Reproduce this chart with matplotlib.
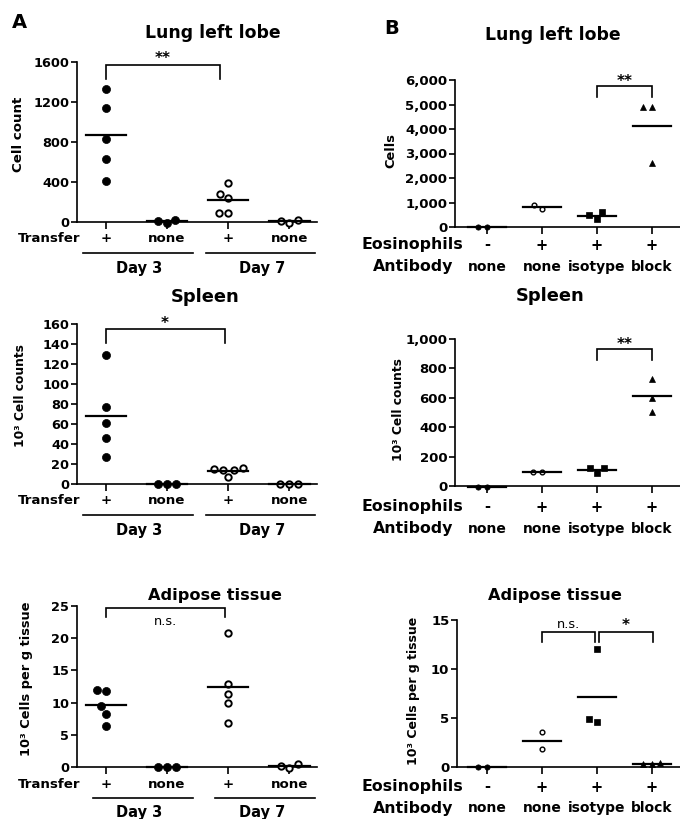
import numpy as np
import matplotlib
matplotlib.use('Agg')
import matplotlib.pyplot as plt
from matplotlib.ticker import FuncFormatter

plt.rcParams['font.family'] = ['DejaVu Sans']
plt.rcParams['font.weight'] = 'bold'

# ---------------- data ----------------
a_transfer = ['+', 'none', '+', 'none']
a_days = ['Day 3', 'Day 7']
a_lung = [[1330, 1140, 830, 630, 410], [25, -10, 15], [395, 285, 240, 90, 90], [25, -5, 10]]
a_spleen = [[129, 77, 61, 46, 27], [0, 0, 0], [16, 15, 14, 14, 7], [0, 0, 0]]
a_adipose = [[12.0, 11.8, 9.5, 8.3, 6.3], [0.05, 0.05, 0.05], [20.8, 12.9, 11.4, 10.0, 6.9], [0.5, -0.1, 0.1]]

b_eos = ['-', '+', '+', '+']
b_antibody = ['none', 'none', 'isotype', 'block']
b_lung = [[-20, -10], [730, 880], [600, 330, 470], [4900, 4900, 2600]]
b_spleen = [[-5, -5], [92, 92], [120, 86, 120], [725, 600, 505]]
b_adipose = [[-0.05, -0.05], [3.6, 1.8], [12.0, 4.6, 4.9], [0.45, 0.3, 0.3]]

W, H = 680, 819
fig = plt.figure(figsize=(W / 100, H / 100), dpi=100)


def make_ax(l, r, t, b):
    return fig.add_axes([l / W, (H - b) / H, (r - l) / W, (b - t) / H])


def swarm(ax, x0, vals, d):
    vals = np.asarray(vals, float)
    pts = ax.transData.transform(np.column_stack([np.full(len(vals), x0), vals]))
    xc = pts[0, 0]
    ys = pts[:, 1]
    order = np.argsort(ys, kind='stable')
    placed = []
    offs = np.zeros(len(vals))
    for i in order:
        cands = [0.0]
        for px_, py_ in placed:
            dy = ys[i] - py_
            if abs(dy) < d:
                dx = np.sqrt(d * d - dy * dy)
                cands += [px_ - dx, px_ + dx]
        cands = sorted(cands, key=lambda c: (round(abs(c), 6), c))
        for c in cands:
            if all((c - px_) ** 2 + (ys[i] - py_) ** 2 >= d * d - 1e-6 for px_, py_ in placed):
                offs[i] = c
                placed.append((c, ys[i]))
                break
    back = ax.transData.inverted().transform(np.column_stack([xc + offs, ys]))
    return back[:, 0]


def style_axes(ax, xlim, ylim, yticks, fmt=None, tick_size=9.3):
    ax.set_xlim(*xlim)
    ax.set_ylim(*ylim)
    ax.spines['top'].set_visible(False)
    ax.spines['right'].set_visible(False)
    for s in ['left', 'bottom']:
        ax.spines[s].set_linewidth(1.2)
    ax.set_yticks(yticks)
    if fmt:
        ax.yaxis.set_major_formatter(FuncFormatter(fmt))
    ax.set_xticks(range(4))
    ax.set_xticklabels([''] * 4)
    ax.tick_params(axis='y', length=4, width=1.2, pad=1.5, labelsize=tick_size)
    ax.tick_params(axis='x', length=5, width=1.2)


def row_text(ax, x, text, px_below, size=9.6, ha='center', weight='bold'):
    ax.annotate(text, xy=(x, 0), xycoords=('data', 'axes fraction'),
                xytext=(0, -px_below * 0.72), textcoords='offset points',
                ha=ha, va='center', fontsize=size, fontweight=weight,
                annotation_clip=False)


def bracket(ax, x1, x2, ytop, ydrop, text, text_off=1.0, size=11, weight='bold', va='baseline'):
    ax.plot([x1, x1, x2, x2], [ydrop, ytop, ytop, ydrop], color='k', lw=1.2,
            clip_on=False, solid_joinstyle='miter')
    ax.annotate(text, xy=((x1 + x2) / 2, ytop), xytext=(0, text_off),
                textcoords='offset points', ha='center', va=va,
                fontsize=size, fontweight=weight, annotation_clip=False)


def draw_groups(ax, groups, markers, half, d, lw_mean=1.6):
    for i, vals in enumerate(groups):
        m = markers[i]
        xs = swarm(ax, i, vals, d)
        ax.plot(xs, vals, linestyle='none', marker=m['marker'], markersize=m['ms'],
                markerfacecolor=m['fc'], markeredgecolor='k', markeredgewidth=m['mew'],
                clip_on=False, zorder=3)
        ax.plot([i - half, i + half], [np.mean(vals)] * 2, color='k', lw=lw_mean,
                clip_on=False, zorder=4)


filled_a = dict(marker='o', ms=5.8, fc='k', mew=0.5)
open_a = dict(marker='o', ms=4.6, fc='white', mew=1.4)
markers_a = [filled_a, filled_a, open_a, open_a]

markers_b = [dict(marker='o', ms=3.8, fc='k', mew=0.5),
             dict(marker='o', ms=3.4, fc='white', mew=1.0),
             dict(marker='s', ms=4.4, fc='k', mew=0.5),
             dict(marker='^', ms=4.8, fc='k', mew=0.5)]


def panel_a(t, b, vals, ylim, yticks, ylabel, ylabel_x, ylabel_size, title, title_x, title_y,
            title_size, br, br_text, br_off, br_size, br_weight, daylines):
    ax = make_ax(77, 317, t, b)
    style_axes(ax, (-0.47, 3.45), ylim, yticks)
    draw_groups(ax, vals, markers_a, 0.33, 9.0)
    ax.set_ylabel(ylabel, fontsize=ylabel_size, fontweight='bold')
    ax.yaxis.set_label_coords(ylabel_x, 0.55)
    ax.text(title_x, title_y, title, transform=ax.transAxes, ha='center', va='center',
            fontsize=title_size, fontweight='bold')
    for i, lab in enumerate(a_transfer):
        row_text(ax, i, lab, 17, size=9.6)
    row_text(ax, -0.42, 'Transfer', 17, size=9.6, ha='right')
    hpx = ax.bbox.height
    for (x1, x2), xc, lab in zip(daylines, [0.55, 2.55], a_days):
        ax.plot([x1, x2], [-31 / hpx] * 2, color='k', lw=1.2, clip_on=False,
                transform=ax.get_xaxis_transform())
        row_text(ax, xc, lab, 46, size=10.5)
    bracket(ax, br[0], br[1], br[2], br[3], br_text, text_off=br_off, size=br_size,
            weight=br_weight)
    return ax


panel_a(62, 222, a_lung, (0, 1600), [0, 400, 800, 1200, 1600], 'Cell count', -0.217, 9.6,
        'Lung left lobe', 0.567, 1.18, 12.4, (0, 1.87, 1570, 1430), '**', 1.5, 11, 'bold',
        [(-0.375, 1.42), (1.63, 3.41)])
panel_a(324, 484, a_spleen, (0, 160), list(range(0, 161, 20)), '10³ Cell counts', -0.208, 8.8,
        'Spleen', 0.533, 1.169, 12.9, (0, 1.94, 155, 141), '*', 1.0, 11, 'bold',
        [(-0.375, 1.42), (1.63, 3.41)])
panel_a(606, 767, a_adipose, (0, 25), [0, 5, 10, 15, 20, 25], '10³ Cells per g tissue', -0.183, 9.4,
        'Adipose tissue', 0.575, 1.068, 11.6, (0, 1.94, 24.7, 23.3), 'n.s.', -12.0, 9.3, 'normal',
        [(-0.21, 1.42), (1.79, 3.41)])


def comma(v, pos):
    return f'{int(v):,}'


def panel_b(l, t, b, vals, ylim, yticks, fmt, ylabel, ylabel_x, ylabel_size, title, title_x,
            title_y, title_size, brackets, rows_px):
    ax = make_ax(l, 680, t, b)
    xl = -0.58 if l == 455 else -0.545
    style_axes(ax, (xl, 3.51), ylim, yticks, fmt, tick_size=9.5)
    draw_groups(ax, vals, markers_b, 0.35, 8.5)
    ax.set_ylabel(ylabel, fontsize=ylabel_size, fontweight='bold')
    ax.yaxis.set_label_coords(ylabel_x, 0.52)
    ax.text(title_x, title_y, title, transform=ax.transAxes, ha='center', va='center',
            fontsize=title_size, fontweight='bold')
    for i, (e, a) in enumerate(zip(b_eos, b_antibody)):
        row_text(ax, i, e, rows_px[0], size=10.5)
        row_text(ax, i, a, rows_px[1], size=10)
    row_text(ax, -1.35, 'Eosinophils', rows_px[0], size=11.3)
    row_text(ax, -1.35, 'Antibody', rows_px[1], size=11.3)
    for br in brackets:
        bracket(ax, *br)
    return ax


panel_b(455, 80, 227, b_lung, (0, 6000), list(range(0, 6001, 1000)), comma, 'Cells', -0.258, 9.4,
        'Lung left lobe', 0.436, 1.306, 12.4,
        [(2, 3, 5770, 5300, '**', 0.0, 11, 'bold')], (18, 40))
panel_b(455, 339, 486, b_spleen, (0, 1000), list(range(0, 1001, 200)), comma, '10³ Cell counts',
        -0.222, 8.8, 'Spleen', 0.422, 1.293, 12.9,
        [(2, 3, 930, 857, '**', 0.0, 11, 'bold')], (21, 43))
panel_b(457, 620, 767, b_adipose, (0, 15), [0, 5, 10, 15], None, '10³ Cells per g tissue',
        -0.166, 9.0, 'Adipose tissue', 0.44, 1.17, 11.6,
        [(1, 1.96, 13.8, 12.8, 'n.s.', 3.0, 9.3, 'normal'),
         (2.04, 3.02, 13.8, 12.8, '*', 1.0, 11, 'bold')], (20, 41))

fig.text(19 / W, 1 - 22 / H, 'A', ha='center', va='center', fontsize=14, fontweight='bold')
fig.text(392 / W, 1 - 29 / H, 'B', ha='center', va='center', fontsize=14, fontweight='bold')

fig.savefig('out.png', dpi=100)
